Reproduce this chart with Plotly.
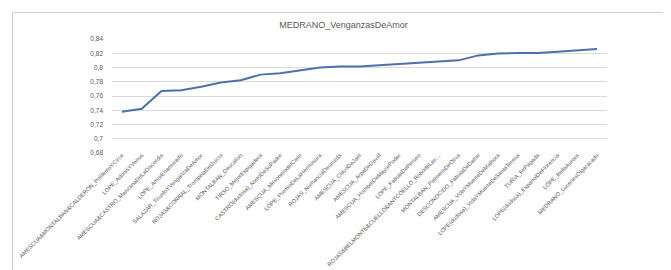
import plotly.graph_objects as go

categories = [
    "AMESCUA&MONTALBAN&CALDERON_PolifemoYCirce",
    "LOPE_AdonisYVenus",
    "AMESCUA&CASTRO_ManzanaDeLaDiscordia",
    "LOPE_AmorEnamorado",
    "SALAZAR_TriunfoYVenganzaDeAmor",
    "ROJAS&CORRAL_TrompetaDelJuicio",
    "MONTALBAN_Deucalion",
    "TIRSO_MejorEspigadera",
    "CASTRO(dudosa)_NietoDeSuPadre",
    "AMESCUA_MesonerodelCielo",
    "LOPE_PremioDeLaHermosura",
    "ROJAS_NumanciaDestruida",
    "AMESCUA_ClavoDeJael",
    "AMESCUA_ArpaDeDavid",
    "AMESCUA_HombreDeMayorPoder",
    "LOPE_FabulaDePerseo",
    "ROJAS&BELMONTE&CUELLO&ANTCOELLO_RobodeLas…",
    "MONTALBAN_PalmerinDeOliva",
    "DESCONOCIDO_FabulaDeDafne",
    "AMESCUA_VidaYMuerteDeMalhora",
    "LOPE(dudosa)_VidaYMuerteDeSantaTeresa",
    "TURIA_FePagada",
    "LOPE(dudosa)_EspanolDeFlorencia",
    "LOPE_BellaAurora",
    "MEDRANO_LucenesOlgaracado",
]

values = [0.738, 0.742, 0.767, 0.768, 0.773, 0.779, 0.782, 0.790, 0.792,
          0.796, 0.800, 0.8015, 0.8015, 0.803, 0.805, 0.807, 0.809, 0.810,
          0.817, 0.8195, 0.8205, 0.8205, 0.822, 0.824, 0.826]

y_tickvals = [0.68, 0.70, 0.72, 0.74, 0.76, 0.78, 0.80, 0.82, 0.84]
y_ticktext = ["0,68", "0,7", "0,72", "0,74", "0,76", "0,78", "0,8", "0,82", "0,84"]

title_text = "MEDRANO_VenganzasDeAmor"

W, H = 671, 270
L, R, T, B = 104, 72, 31, 125

fig = go.Figure()
fig.add_trace(go.Scatter(
    x=categories, y=values, mode="lines",
    line=dict(color="#4f6fad", width=2),
    hoverinfo="x+y",
))

pw = W - L - R
ph = H - T - B
fig.add_shape(type="rect", xref="paper", yref="paper",
              x0=(4.5 - L) / pw, x1=(666.5 - L) / pw,
              y0=(H - B - 265.5) / ph, y1=(H - B - 4.5) / ph,
              line=dict(color="#d0d0d0", width=1), fillcolor="rgba(0,0,0,0)", layer="below")

fig.update_layout(
    width=W, height=H,
    margin=dict(l=L, r=R, t=T, b=B, autoexpand=False),
    paper_bgcolor="white", plot_bgcolor="white",
    showlegend=False,
    title=dict(text=title_text, x=0.5, xref="container", xanchor="center",
               y=1 - 17 / H, yref="container", yanchor="middle",
               font=dict(family="Liberation Sans, Arial", size=9, color="#595959")),
    font=dict(family="Liberation Sans, Arial", color="#595959"),
    xaxis=dict(
        type="category", tickangle=-45, showgrid=False, zeroline=False,
        showline=False, ticks="", tickfont=dict(size=5.7, color="#595959"),
        range=[-0.5, len(categories) - 0.5], automargin=False,
        ticklabelstandoff=-3,
    ),
    yaxis=dict(
        range=[0.68, 0.84], tickvals=y_tickvals, ticktext=y_ticktext,
        showgrid=True, gridcolor="#d9d9d9", gridwidth=1, zeroline=False,
        showline=False, ticks="", tickfont=dict(size=6.5, color="#595959"),
        ticklabelstandoff=8, automargin=False,
    ),
)

fig.write_html("out.html")
